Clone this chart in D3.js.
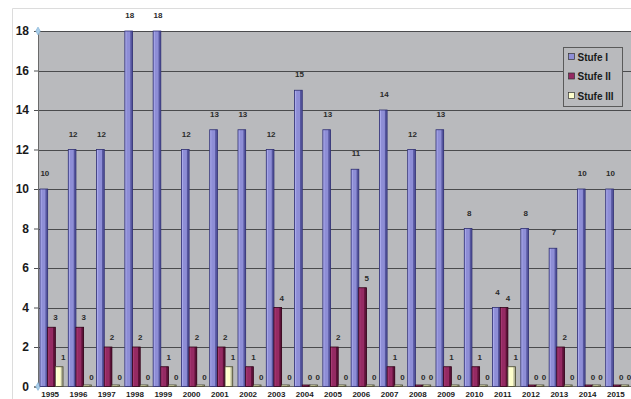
<!DOCTYPE html>
<html>
<head>
<meta charset="utf-8">
<script src="https://cdn.jsdelivr.net/npm/d3@7"></script>
<style>
  html, body { margin: 0; padding: 0; background: #ffffff; }
  svg { display: block; font-family: "Liberation Sans", Arial, sans-serif; }
</style>
</head>
<body>
<svg id="chart" width="631" height="399"></svg>
<script>
// Jahre und Werte je Stufe
const years = ["1995","1996","1997","1998","1999","2000","2001","2002","2003","2004","2005",
               "2006","2007","2008","2009","2010","2011","2012","2013","2014","2015"];
const stufeI   = [10,12,12,18,18,12,13,13,12,15,13,11,14,12,13,8,4,8,7,10,10];
const stufeII  = [3,3,2,2,1,2,2,1,4,0,2,5,1,0,1,1,4,0,2,0,0];
const stufeIII = [1,0,0,0,0,0,1,0,0,0,0,0,0,0,0,0,1,0,0,0,0];
const seriesNames = ["Stufe I", "Stufe II", "Stufe III"];
const yTicks = [0,2,4,6,8,10,12,14,16,18];

const seriesStyle = {
  "Stufe I":   { face: "#8e8ed6", light: "#a9a9ea", side: "#55559e", edge: "#2e2e70" },
  "Stufe II":  { face: "#952a63", light: "#a83a74", side: "#5c1238", edge: "#300418" },
  "Stufe III": { face: "#ffffcc", light: "#ffffe0", side: "#b8b89a", edge: "#40402a" }
};

const svg = d3.select("#chart");
const W = 631, H = 399;
const plot = { left: 38, right: 632, top: 31, bottom: 386.5 };

const x0 = d3.scaleBand().domain(years).range([plot.left, plot.right]).padding(0);
const x1 = d3.scaleBand().domain(seriesNames).range([2, 25]).padding(0);
const y = d3.scaleLinear().domain([0, 18]).range([plot.bottom, plot.top]);

// Äußerer Rahmen
svg.append("path")
  .attr("d", `M12.5,${H} V8.5 H${W}`)
  .attr("fill", "none").attr("stroke", "#dcdcdc").attr("stroke-width", 1);

// Diagrammfläche
svg.append("rect")
  .attr("x", plot.left).attr("y", plot.top)
  .attr("width", W - plot.left).attr("height", plot.bottom - plot.top)
  .attr("fill", "#b9babd");

// Gitterlinien
svg.append("g").selectAll("line").data(yTicks.filter(d => d > 0)).join("line")
  .attr("x1", plot.left).attr("x2", W)
  .attr("y1", d => Math.round(y(d)) + 0.5).attr("y2", d => Math.round(y(d)) + 0.5)
  .attr("stroke", "#4a4b4d").attr("stroke-width", 1);

// Y-Achse
const yAxis = d3.axisLeft(y).tickValues(yTicks).tickSize(4).tickPadding(5);
const gy = svg.append("g").attr("transform", `translate(${plot.left},0)`).call(yAxis);
gy.select(".domain").attr("stroke", "#6a6a6a");
gy.selectAll(".tick line").attr("stroke", "#4f5052");
gy.selectAll(".tick text")
  .attr("fill", "#1a1a1a").attr("font-size", 12).attr("font-weight", "bold")
  .attr("font-family", "'Liberation Sans', Arial, sans-serif");

// Bodenlinie
svg.append("line")
  .attr("x1", plot.left).attr("x2", W)
  .attr("y1", plot.bottom).attr("y2", plot.bottom)
  .attr("stroke", "#6a6a6a");

// Rauten an den Achsenecken
[18, 0].forEach(v => {
  svg.append("path")
    .attr("d", d3.symbol().type(d3.symbolDiamond).size(18)())
    .attr("transform", `translate(${plot.left},${y(v)})`)
    .attr("fill", "#a9cde8").attr("stroke", "#7fb0d6").attr("stroke-width", 0.6);
});

// Balken
const rows = years.map((yr, i) => ({
  year: yr,
  vals: [
    { name: "Stufe I", v: stufeI[i] },
    { name: "Stufe II", v: stufeII[i] },
    { name: "Stufe III", v: stufeIII[i] }
  ]
}));

const groups = svg.append("g").selectAll("g").data(rows).join("g")
  .attr("transform", d => `translate(${x0(d.year)},0)`);

const bw = x1.bandwidth();
const bars = groups.selectAll("g.bar").data(d => d.vals).join("g").attr("class", "bar");

bars.each(function(d) {
  const g = d3.select(this);
  const st = seriesStyle[d.name];
  const bx = x1(d.name);
  const top = d.v > 0 ? y(d.v) : plot.bottom - 1.5;
  const h = plot.bottom - top;
  // Vorderseite
  g.append("rect").attr("x", bx).attr("y", top).attr("width", bw).attr("height", h)
    .attr("fill", st.face);
  // Lichtkante
  g.append("rect").attr("x", bx).attr("y", top).attr("width", 1.6).attr("height", h)
    .attr("fill", st.light);
  // Seitenfläche
  g.append("rect").attr("x", bx + bw - 2.2).attr("y", top).attr("width", 2.2).attr("height", h)
    .attr("fill", st.side);
  // Umriss
  g.append("rect").attr("x", bx).attr("y", top).attr("width", bw).attr("height", h)
    .attr("fill", "none").attr("stroke", st.edge).attr("stroke-width", 0.8);
});

// Wertbeschriftungen
bars.append("text")
  .attr("x", d => x1(d.name) + bw / 2 + (d.name === "Stufe I" ? 1 : 4))
  .attr("y", d => y(d.v) - (d.name === "Stufe I" ? 13 : 7))
  .attr("text-anchor", "middle")
  .attr("font-size", 8).attr("font-weight", "bold").attr("fill", "#2a2a2a")
  .text(d => d.v);

// Jahresbeschriftungen
const xAxis = d3.axisBottom(x0).tickSize(0).tickPadding(0);
const gx = svg.append("g").attr("transform", `translate(0,${plot.bottom})`).call(xAxis);
gx.select(".domain").remove();
gx.selectAll(".tick text")
  .attr("dy", 0).attr("y", 10.5)
  .attr("dx", -2)
  .attr("fill", "#1a1a1a").attr("font-size", 8).attr("font-weight", "bold")
  .attr("font-family", "'Liberation Sans', Arial, sans-serif");

// Legende
const leg = svg.append("g").attr("transform", "translate(563.5,47.5)");
leg.append("rect").attr("width", 59).attr("height", 59)
  .attr("fill", "#b9babd").attr("stroke", "#5a5a5a").attr("stroke-width", 1);
seriesNames.forEach((name, i) => {
  const row = leg.append("g").attr("transform", `translate(5,${9 + i * 19.5})`);
  row.append("rect").attr("x", 0).attr("y", -3).attr("width", 6).attr("height", 6)
    .attr("fill", seriesStyle[name].face).attr("stroke", "#333").attr("stroke-width", 0.7);
  row.append("text").attr("x", 9).attr("y", 4)
    .attr("font-size", 10).attr("font-weight", "bold").attr("fill", "#1a1a1a")
    .text(name);
});
</script>
</body>
</html>
